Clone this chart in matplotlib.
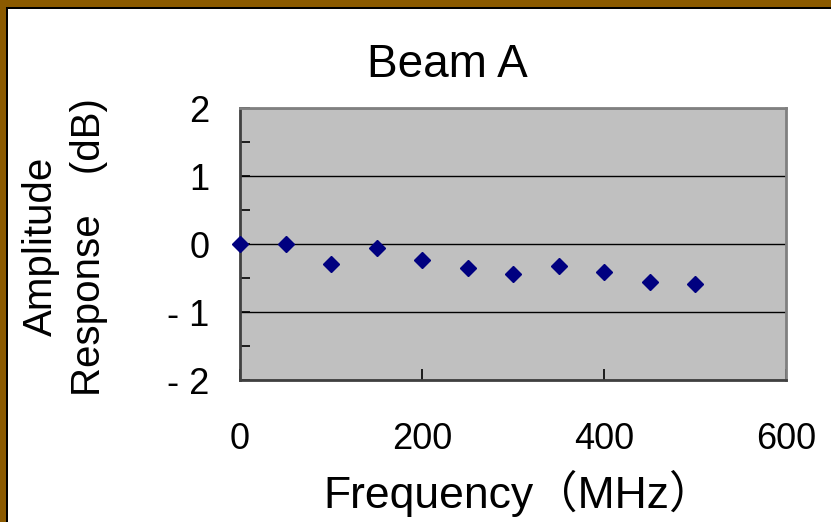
import matplotlib.pyplot as plt
from matplotlib.patches import Rectangle

# Data
freq_mhz = [0, 50, 100, 150, 200, 250, 300, 350, 400, 450, 500]
amp_db = [0.0, 0.0, -0.29, -0.06, -0.24, -0.35, -0.44, -0.32, -0.41, -0.56, -0.59]
x_ticks = [0, 200, 400, 600]
y_ticks = [-2, -1, 0, 1, 2]
y_tick_labels = ['- 2', '- 1', '0', '1', '2']

plt.rcParams['font.family'] = ['Liberation Sans', 'Noto Sans CJK SC', 'DejaVu Sans']

fig = plt.figure(figsize=(8.31, 5.22), dpi=100)
ax = fig.add_axes([240 / 831, 1 - 380 / 522, 546 / 831, 272 / 522])
ax.set_facecolor('#C0C0C0')

ax.plot(freq_mhz, amp_db, linestyle='none', marker='D', markersize=8,
        color='#000080', clip_on=False, zorder=5)

ax.set_xlim(0, 600)
ax.set_ylim(-2, 2)
ax.set_xticks(x_ticks)
ax.set_yticks(y_ticks)
ax.set_yticklabels(y_tick_labels)
ax.set_yticks([-1.5, -0.5, 0.5, 1.5], minor=True)
ax.tick_params(axis='both', which='both', direction='in', color='black', width=1.2)
ax.tick_params(axis='y', which='both', length=7, labelsize=26, pad=22)
ax.tick_params(axis='x', which='major', length=8, labelsize=26, pad=30)

ax.grid(axis='y', which='major', color='black', linewidth=1)
ax.set_axisbelow(True)

for side in ['left', 'bottom']:
    ax.spines[side].set_color('#404040')
    ax.spines[side].set_linewidth(2)
for side in ['top', 'right']:
    ax.spines[side].set_color('#808080')
    ax.spines[side].set_linewidth(2)

ax.set_xlabel('Frequency（MHz）', fontsize=32, va='center')
ax.xaxis.set_label_coords((519 - 240) / 546, (380 - 493) / 272)
ax.set_ylabel('Amplitude\nResponse\u3000(dB)', fontsize=29, linespacing=1.35, va='center')
ax.yaxis.set_label_coords((65 - 240) / 546, 0.49)

fig.text(447 / 831, 1 - 77 / 522, 'Beam A', fontsize=33, ha='center', va='baseline')

# brown frame on the top and left edges
fig.patches.append(Rectangle((0, 1 - 7 / 522), 1, 7 / 522, transform=fig.transFigure,
                             facecolor='#8B5A00', edgecolor='none'))
fig.patches.append(Rectangle((0, 0), 6 / 831, 1, transform=fig.transFigure,
                             facecolor='#8B5A00', edgecolor='none'))
fig.patches.append(Rectangle((6 / 831, 0), 1.5 / 831, 1 - 7 / 522, transform=fig.transFigure,
                             facecolor='black', edgecolor='none'))
fig.patches.append(Rectangle((6 / 831, 1 - 8.5 / 522), 1, 1.5 / 522, transform=fig.transFigure,
                             facecolor='black', edgecolor='none'))

plt.savefig('out.png', dpi=100)
